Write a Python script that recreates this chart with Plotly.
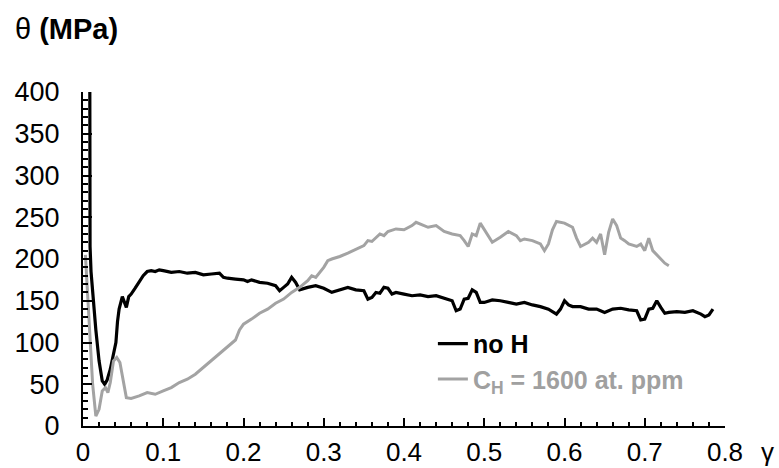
import plotly.graph_objects as go

# --- data ---
gamma_noH = [0.0085, 0.0088, 0.010, 0.012, 0.016, 0.020, 0.024, 0.027, 0.030, 0.034, 0.038,
             0.041, 0.043, 0.045, 0.049, 0.052, 0.054, 0.057, 0.060, 0.065, 0.070, 0.075,
             0.080, 0.085, 0.090, 0.095,
             0.10, 0.11, 0.12, 0.13, 0.14, 0.15, 0.16, 0.17, 0.175, 0.18, 0.19, 0.20, 0.205,
             0.21, 0.22, 0.23, 0.24, 0.245, 0.25, 0.255, 0.26, 0.265, 0.27, 0.28, 0.29, 0.30,
             0.31, 0.32, 0.33, 0.34, 0.35, 0.355, 0.36, 0.365, 0.37, 0.375, 0.38, 0.385, 0.39,
             0.40, 0.41, 0.42, 0.43, 0.44, 0.45, 0.46, 0.465, 0.47, 0.475, 0.48, 0.485, 0.49,
             0.495, 0.50, 0.51, 0.52, 0.53, 0.54, 0.55, 0.56, 0.57, 0.58, 0.59, 0.595, 0.60,
             0.605, 0.61, 0.62, 0.63, 0.64, 0.65, 0.66, 0.67, 0.68, 0.69, 0.695, 0.70, 0.705,
             0.71, 0.715, 0.72, 0.725, 0.73, 0.74, 0.75, 0.76, 0.77, 0.775, 0.78, 0.785]
theta_noH = [400, 215, 185, 160, 115, 78, 54, 50, 55, 68, 84,
             100, 125, 140, 155, 148, 142, 155, 158, 165, 172, 180,
             185, 186, 185, 187,
             186, 184, 185, 183, 184, 181, 182, 183, 178, 177, 176, 175, 173,
             175, 172, 171, 168, 162, 166, 170, 178, 172, 163, 166, 168, 165,
             160, 163, 166, 163, 162, 152, 154, 160, 159, 166, 165, 158, 160,
             158, 156, 157, 155, 156, 153, 150, 138, 140, 152, 153, 163, 160,
             148, 148, 151, 150, 148, 146, 148, 145, 143, 140, 134, 140, 150,
             145, 143, 143, 140, 140, 136, 140, 141, 139, 138, 127, 128, 140,
             141, 150, 142, 135, 136, 137, 136, 138, 134, 131, 133, 140]

gamma_H = [0.003, 0.008, 0.012, 0.016, 0.020, 0.024, 0.028, 0.031, 0.034, 0.038, 0.042,
           0.046, 0.050, 0.054, 0.060, 0.070, 0.080, 0.090,
           0.10, 0.11, 0.12, 0.13, 0.14, 0.15, 0.16, 0.17, 0.175, 0.18, 0.19, 0.195, 0.20,
           0.21, 0.22, 0.23, 0.24, 0.25, 0.26, 0.27, 0.28, 0.285, 0.29, 0.30, 0.305, 0.31,
           0.32, 0.33, 0.34, 0.35, 0.355, 0.36, 0.37, 0.375, 0.38, 0.39, 0.40, 0.41, 0.415,
           0.42, 0.43, 0.44, 0.45, 0.46, 0.47, 0.475, 0.48, 0.485, 0.49, 0.495, 0.50, 0.505,
           0.51, 0.52, 0.53, 0.54, 0.545, 0.55, 0.56, 0.57, 0.575, 0.58, 0.585, 0.59, 0.60,
           0.61, 0.615, 0.62, 0.63, 0.635, 0.64, 0.645, 0.65, 0.655, 0.66, 0.665, 0.67, 0.675,
           0.68, 0.69, 0.695, 0.70, 0.705, 0.71, 0.715, 0.72, 0.725, 0.73]
theta_H = [205, 120, 50, 12, 20, 42, 46, 40, 52, 78, 82,
           76, 55, 34, 33, 36, 40, 38,
           42, 46, 52, 56, 62, 70, 78, 86, 90, 95, 103, 115, 122,
           128, 135, 140, 147, 152, 160, 166, 174, 180, 178, 190, 198, 200,
           203, 207, 212, 216, 222, 221, 230, 228, 233, 236, 235, 240, 244,
           242, 238, 240, 233, 230, 228, 222, 215, 230, 228, 243, 235, 228,
           220, 226, 233, 228, 222, 224, 222, 218, 210, 218, 235, 245, 243,
           238, 225, 215, 220, 225, 220, 230, 205, 232, 248, 240, 225, 222,
           218, 215, 218, 210, 225, 210, 205, 200, 195, 192]

x_ticks = [0, 0.1, 0.2, 0.3, 0.4, 0.5, 0.6, 0.7, 0.8]
x_tick_labels = ["0", "0.1", "0.2", "0.3", "0.4", "0.5", "0.6", "0.7", "0.8"]
y_ticks = [0, 50, 100, 150, 200, 250, 300, 350, 400]

name_noH = "<b>no H</b>"
name_H = "<b><span style='color:#a0a0a0'>C<sub>H</sub> = 1600 at. ppm</span></b>"

FONT = "Liberation Sans, Arial, sans-serif"

fig = go.Figure()
fig.add_trace(go.Scatter(x=gamma_noH, y=theta_noH, mode="lines", name=name_noH,
                         line=dict(color="black", width=3.2)))
fig.add_trace(go.Scatter(x=gamma_H, y=theta_H, mode="lines", name=name_H,
                         line=dict(color="#a3a3a3", width=3)))

fig.update_layout(
    width=779, height=468,
    margin=dict(l=83, r=54, t=92, b=42),
    paper_bgcolor="white", plot_bgcolor="white",
    font=dict(family=FONT, size=27, color="black"),
    showlegend=True,
    legend=dict(x=0.545, y=0.315, xanchor="left", yanchor="top",
                bgcolor="rgba(0,0,0,0)", font=dict(size=25, family=FONT),
                tracegroupgap=0, itemwidth=30),
)
fig.update_xaxes(
    range=[0, 0.8], tickvals=x_ticks, ticktext=x_tick_labels,
    showgrid=False, zeroline=False, automargin=False,
    showline=True, linecolor="black", linewidth=2,
    ticks="inside", ticklen=8, tickwidth=1.5, tickcolor="black",
    minor=dict(dtick=0.02, ticks="inside", ticklen=4, tickwidth=1.5, tickcolor="black"),
    tickfont=dict(size=26, family=FONT), ticklabelstandoff=2,
)
fig.update_yaxes(
    range=[0, 400], tickvals=y_ticks,
    showgrid=False, zeroline=False, automargin=False,
    showline=True, linecolor="black", linewidth=2,
    ticks="inside", ticklen=9, tickwidth=1.5, tickcolor="black",
    minor=dict(dtick=10, ticks="inside", ticklen=5, tickwidth=1.5, tickcolor="black"),
    tickfont=dict(size=27, family=FONT), ticklabelstandoff=16,
)

fig.add_annotation(xref="paper", yref="paper", x=-70/642, y=1 + 63/334,
                   xanchor="left", yanchor="middle", showarrow=False,
                   text="θ <b>(MPa)</b>", font=dict(size=29, family=FONT))
fig.add_annotation(xref="paper", yref="paper", x=1 + 34/642, y=-26/334,
                   xanchor="left", yanchor="middle", showarrow=False,
                   text="γ", font=dict(size=26, family=FONT))

# remove the default page margin so the figure fills the 779x468 window exactly
fig.write_html("out.html", config={"displayModeBar": False},
               post_script="document.body.style.margin='0';")
